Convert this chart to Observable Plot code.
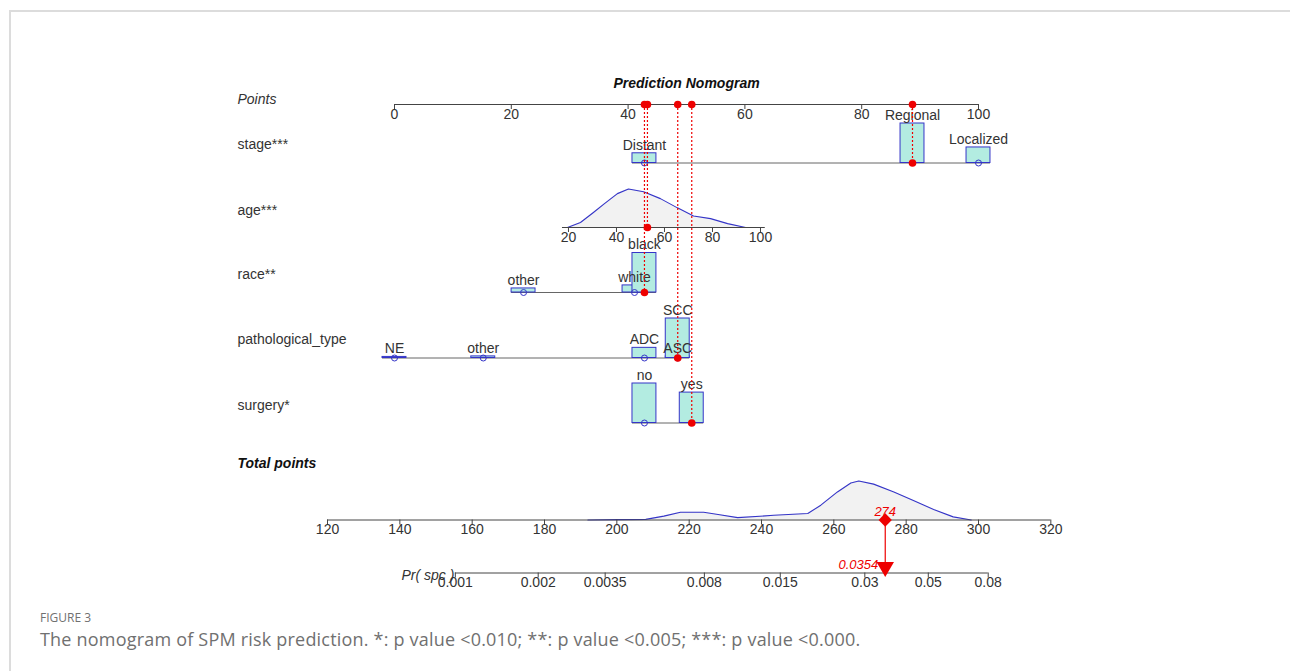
<!DOCTYPE html>
<html><head><meta charset="utf-8">
<script src="https://cdn.jsdelivr.net/npm/d3@7"></script>
<script src="https://cdn.jsdelivr.net/npm/@observablehq/plot@0.6"></script>
<style>
body{margin:0;background:#fff;}
#wrap{position:relative;width:1290px;height:671px;overflow:hidden;background:#fff;}
#frame{position:absolute;left:9px;top:10px;width:1300px;height:700px;border-top:2px solid #dcdcdc;border-left:2px solid #dcdcdc;}
#chart{position:absolute;left:0;top:0;}
#fig{position:absolute;left:40px;top:609px;font-family:'Open Sans',sans-serif;font-size:12px;color:#707070;letter-spacing:0px;}
#cap{position:absolute;left:40px;top:627px;font-family:'Open Sans',sans-serif;font-size:18px;color:#707070;letter-spacing:0.2px;}
</style></head><body>
<div id="wrap">
<div id="frame"></div>
<div id="chart"></div>
<div id="fig">FIGURE 3</div>
<div id="cap">The nomogram of SPM risk prediction. *: p value &lt;0.010; **: p value &lt;0.005; ***: p value &lt;0.000.</div>
</div>
<script>
// ---------------- data ----------------
const chartTitle = "Prediction Nomogram";
const rowLabels = ["Points","stage***","age***","race**","pathological_type","surgery*","Total points"];
const pointsTicks = [0,20,40,60,80,100];

const stageLevels = ["Distant","Regional","Localized"];
const stagePoints = [42.8, 88.7, 100];
const stageFreq = [0.15, 0.61, 0.24];
const stageSelected = "Regional";

const ageTicks = [20,40,60,80,100];
const ageGrid =    [19.6, 25, 30.4, 35, 40.4, 45, 51.3, 58.3, 65.4, 72.1, 79.2, 86.3, 93.8];
const ageDensity = [0, 0.13, 0.39, 0.62, 0.88, 1.0, 0.93, 0.75, 0.51, 0.30, 0.23, 0.10, 0];
const agePointsAt20 = 29.79, agePointsPerYear = 0.411;
const ageSelected = 52.9;

const raceLevels = ["other","white","black"];
const racePoints = [22.1, 41.1, 42.8];
const raceFreq = [0.08, 0.14, 0.78];
const raceSelected = "black";

const pathLevels = ["NE","other","ADC","ASC","SCC"];
const pathPoints = [0, 15.2, 42.8, 48.5, 48.5];
const pathFreq = [0.02, 0.03, 0.19, 0.03, 0.74];
const pathSelected = "ASC";

const surgeryLevels = ["no","yes"];
const surgeryPoints = [42.8, 50.9];
const surgeryFreq = [0.565, 0.435];
const surgerySelected = "yes";

const totalTicks = [120,140,160,180,200,220,240,260,280,300,320];
const totalGrid =    [192, 200, 208, 213, 217.6, 224, 228, 233.4, 243.4, 252.8, 256.4, 261, 264.7, 266.9, 271, 276.6, 282, 287.6, 293, 298];
const totalDensity = [0, 0.01, 0.015, 0.1, 0.2, 0.2, 0.14, 0.06, 0.12, 0.165, 0.38, 0.72, 0.95, 1.0, 0.92, 0.72, 0.5, 0.27, 0.08, 0];
const totalPointsPerScalePoint = 0.61928, totalPointsOffset = -11.47; // total 120 -> -11.47 on point scale

const probTicks = [0.001,0.002,0.0035,0.008,0.015,0.03,0.05,0.08];
const probLabels = ["0.001","0.002","0.0035","0.008","0.015","0.03","0.05","0.08"];
const lpIntercept = -11.6137, lpSlope = 0.0303;
const probAxisLabel = "Pr( spc )";

// ---------------- layout / style ----------------
const Y = {title:83, points:104, stage:162.5, age:227, race:292, path:357.5, surgery:422.5, total:519.5, prob:572.5};
const labelY = [99,144,210,274,339,405,463];
const barMax = 39.5, barHalf = 2.05;
const barFill = "#b3ece1", blue = "#3535c8", red = "#ee0000", axisCol = "#444", txt = "#333";

const ageToPts = a => agePointsAt20 + (a - 20) * agePointsPerYear;
const totToPts = t => totalPointsOffset + (t - 120) * totalPointsPerScalePoint;
const probToTot = p => (Math.log(p/(1-p)) - lpIntercept) / lpSlope;

const sel = (lv, pts, s) => pts[lv.indexOf(s)];
const selStage = sel(stageLevels, stagePoints, stageSelected);
const selAge = ageToPts(ageSelected);
const selRace = sel(raceLevels, racePoints, raceSelected);
const selPath = sel(pathLevels, pathPoints, pathSelected);
const selSurg = sel(surgeryLevels, surgeryPoints, surgerySelected);
const totalScore = selStage + selAge + selRace + selPath + selSurg;
const prob = 1/(1+Math.exp(-(lpIntercept + lpSlope*totalScore)));

const selections = [
  {p: selStage, base: Y.stage},
  {p: selAge, base: Y.age},
  {p: selRace, base: Y.race},
  {p: selPath, base: Y.path},
  {p: selSurg, base: Y.surgery}
];

function axis(ticks, toPts, base, labels, lo, hi) {
  const t = ticks.map((v,i)=>({x: toPts(v), lab: labels ? labels[i] : String(v)}));
  return [
    Plot.ruleY([base], {x1: toPts(lo), x2: toPts(hi), stroke: axisCol, strokeWidth: 1}),
    Plot.ruleX(t, {x: "x", y1: base, y2: base + 5, stroke: axisCol}),
    Plot.text(t, {x: "x", y: base, dy: 10, text: "lab", fill: txt, fontSize: 14})
  ];
}

function catRow(levels, pts, freq, selected, base) {
  const maxF = d3.max(freq);
  const rows = levels.map((l,i)=>({label:l, p:pts[i], h: freq[i]/maxF*barMax}));
  return [
    Plot.ruleY([base], {x1: d3.min(pts) - barHalf, x2: d3.max(pts) + barHalf, stroke: "#666"}),
    Plot.rect(rows, {x1: d=>d.p - barHalf, x2: d=>d.p + barHalf, y1: d=>base - d.h, y2: base, fill: barFill, stroke: blue, strokeWidth: 1}),
    Plot.text(rows, {x: "p", y: d=>base - d.h, dy: -8, text: "label", fill: txt, fontSize: 14}),
    Plot.dot(rows.filter(d=>d.label !== selected), {x: "p", y: base, r: 3, stroke: blue, fill: "none", strokeWidth: 1})
  ];
}

function density(grid, dens, toPts, base, maxH) {
  const d = grid.map((g,i)=>({x: toPts(g), y: base - dens[i]*maxH}));
  return [
    Plot.area(d, {x1: "x", y1: base, y2: "y", fill: "#f2f2f2"}),
    Plot.line(d, {x: "x", y: "y", stroke: blue, strokeWidth: 1.1})
  ];
}

const labelRows = rowLabels.map((t,i)=>({t, y: labelY[i], i}));
const plainRows = labelRows.filter(d => d.i !== 0 && d.i !== 6);

const chart = Plot.plot({
  width: 1290, height: 600,
  marginTop: 0, marginRight: 0, marginBottom: 0, marginLeft: 0,
  x: {domain: [0,100], range: [394,978], axis: null},
  y: {domain: [0,600], range: [0,600], axis: null},
  style: {fontFamily: "'Liberation Sans', Arial, sans-serif", fontSize: "14px", background: "transparent", overflow: "visible"},
  marks: [
    // title and row labels
    Plot.text([chartTitle], {x: 50, y: Y.title, text: d=>d, fontWeight: "bold", fontStyle: "italic", fontSize: 14, fill: "#111"}),
    Plot.text(plainRows, {frameAnchor: "left", dx: 237, y: "y", text: "t", textAnchor: "start", fill: txt, fontSize: 14}),
    Plot.text(labelRows.filter(d => d.i === 0), {frameAnchor: "left", dx: 237, y: "y", text: "t", textAnchor: "start", fill: txt, fontSize: 14, fontStyle: "italic"}),
    Plot.text(labelRows.filter(d => d.i === 6), {frameAnchor: "left", dx: 237, y: "y", text: "t", textAnchor: "start", fill: "#111", fontSize: 14, fontStyle: "italic", fontWeight: "bold"}),
    // points axis
    ...axis(pointsTicks, v=>v, Y.points, null, 0, 100),
    // stage
    ...catRow(stageLevels, stagePoints, stageFreq, stageSelected, Y.stage),
    // age density + axis
    ...density(ageGrid, ageDensity, ageToPts, Y.age, 38.5),
    ...axis(ageTicks, ageToPts, Y.age, null, 17.5, 102),
    // race, pathology, surgery
    ...catRow(raceLevels, racePoints, raceFreq, raceSelected, Y.race),
    ...catRow(pathLevels, pathPoints, pathFreq, pathSelected, Y.path),
    ...catRow(surgeryLevels, surgeryPoints, surgeryFreq, surgerySelected, Y.surgery),
    // total points density + axis
    ...density(totalGrid, totalDensity, totToPts, Y.total, 39),
    ...axis(totalTicks, totToPts, Y.total, null, 120, 320),
    // probability axis
    ...axis(probTicks, p=>totToPts(probToTot(p)), Y.prob, probLabels, 0.001, 0.08),
    Plot.text([probAxisLabel], {x: totToPts(probToTot(0.001)), y: Y.prob, dx: -1, dy: 3, text: d=>d, textAnchor: "end", fontStyle: "italic", fill: txt, fontSize: 14}),
    // selection lines
    Plot.ruleX(selections, {x: "p", y1: Y.points, y2: "base", stroke: red, strokeDasharray: "2,2", strokeWidth: 1.2}),
    Plot.dot(selections, {x: "p", y: "base", r: 3.8, fill: red}),
    Plot.dot(selections, {x: "p", y: Y.points, r: 3.8, fill: red}),
    // total score and probability
    Plot.ruleX([totToPts(totalScore)], {y1: Y.total, y2: Y.prob - 8, stroke: red, strokeWidth: 1.2}),
    Plot.dot([totToPts(totalScore)], {x: d=>d, y: Y.total, symbol: "diamond2", r: 6, fill: red}),
    Plot.dot([totToPts(totalScore)], {x: d=>d, y: Y.prob - 6, symbol: "triangle", rotate: 180, r: 6.5, fill: red}),
    Plot.text([totalScore], {x: d=>totToPts(d), y: Y.total, dy: -8, text: d=>String(Math.round(d)), fill: red, fontStyle: "italic", fontSize: 13}),
    Plot.text([prob], {x: totToPts(totalScore), y: Y.prob, dx: -7, dy: -8, textAnchor: "end", text: d=>d.toFixed(4), fill: red, fontStyle: "italic", fontSize: 13})
  ]
});
document.getElementById("chart").appendChild(chart);
</script>
</body></html>
